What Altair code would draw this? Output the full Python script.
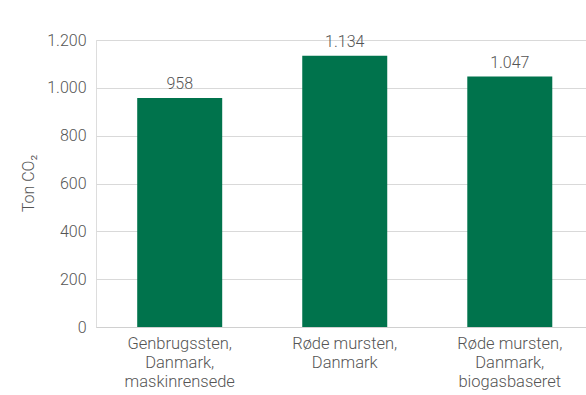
import altair as alt
import pandas as pd

# Bar categories (line breaks mark label wrapping) and CO2 totals in tonnes
categories = [
    "Genbrugssten,\nDanmark,\nmaskinrensede",
    "Røde mursten,\nDanmark",
    "Røde mursten,\nDanmark,\nbiogasbaseret",
]
values = [958, 1134, 1047]
y_ticks = [0, 200, 400, 600, 800, 1000, 1200]

df = pd.DataFrame({"kategori": categories, "ton": values})

FONT = "Roboto"
WEIGHT = 300
GRAY = "#555555"
GREEN = "#00734C"

# Danish thousands separator: 1.134 instead of 1,134
DK_FMT = "replace(format({v}, ','), ',', '.')"

base = alt.Chart(df).encode(
    x=alt.X(
        "kategori:N",
        sort=categories,
        scale=alt.Scale(paddingInner=0.485, paddingOuter=0.227, align=0.55),
        axis=alt.Axis(
            title=None,
            labelAngle=0,
            labelExpr="split(datum.label, '\\n')",
            labelFont=FONT,
            labelFontWeight=WEIGHT,
            labelFontSize=16.5,
            labelColor=GRAY,
            labelLineHeight=19,
            labelPadding=8,
            labelBaseline="top",
            ticks=False,
            domainColor="#d0d0d0",
            domainWidth=1.2,
        ),
    ),
    y=alt.Y(
        "ton:Q",
        scale=alt.Scale(domain=[0, 1200], nice=False),
        axis=alt.Axis(
            title="Ton CO₂",
            values=y_ticks,
            labelExpr=DK_FMT.format(v="datum.value"),
            labelFont=FONT,
            labelFontWeight=WEIGHT,
            labelFontSize=16,
            labelColor=GRAY,
            labelPadding=10,
            ticks=False,
            domain=False,
            gridColor="#d9d9d9",
            gridWidth=1.2,
            titleFont=FONT,
            titleFontSize=16,
            titleFontWeight=WEIGHT,
            titleColor=GRAY,
            titleAngle=-90,
            titleX=-68,
            titleY=143,
            titleAlign="center",
            titleBaseline="middle",
        ),
    ),
)

bars = base.mark_bar(color=GREEN)

labels = base.transform_calculate(
    etiket=DK_FMT.format(v="datum.ton")
).mark_text(
    baseline="bottom",
    dy=-6,
    font=FONT,
    fontWeight=WEIGHT,
    fontSize=16,
    color=GRAY,
).encode(text="etiket:N")

chart = (
    (bars + labels)
    .properties(
        width=490,
        height=287,
        autosize=alt.AutoSizeParams(type="none"),
        padding={"left": 96, "top": 40, "right": 0, "bottom": 68},
    )
    .configure_view(stroke=None)
    .configure(background="white")
)

chart.save("out.html", embed_options={"renderer": "svg", "actions": False})
